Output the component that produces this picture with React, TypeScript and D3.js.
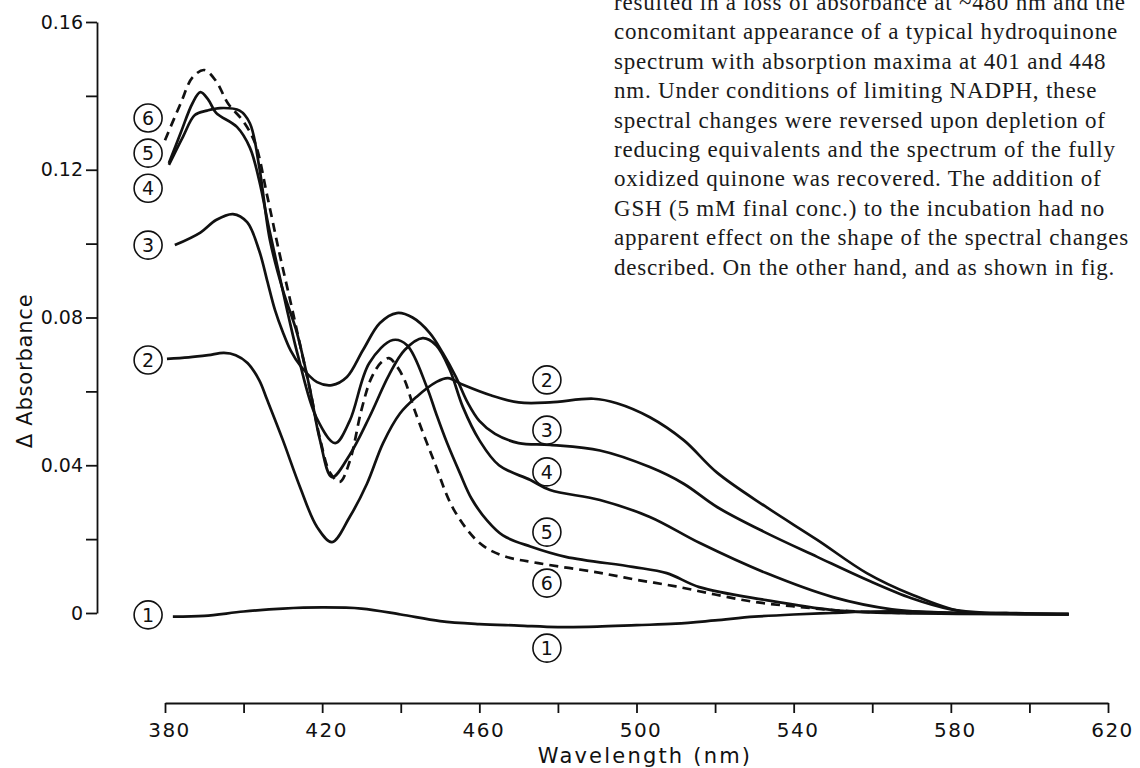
import React, { useRef, useEffect } from "react";
import * as d3 from "d3";

const width = 1140;
const height = 768;

// spectra, [wavelength (nm), delta absorbance]
const spectrum1 = [
  [382, -0.001], [390, -0.0008], [400, 0.0004], [410, 0.0012], [420, 0.0015],
  [430, 0.0012], [440, -0.0004], [450, -0.0022], [460, -0.003], [470, -0.0034],
  [480, -0.0038], [490, -0.0037], [500, -0.0033], [510, -0.0029], [520, -0.002],
  [530, -0.001], [540, -0.0004], [550, 0], [560, 0.0004], [570, 0.0004],
  [580, 0.0001], [590, 0], [600, -0.0002], [610, -0.0004],
];

const spectrum2 = [
  [380.5, 0.0688], [386, 0.0692], [391, 0.0698], [395, 0.0704], [398, 0.0698],
  [401, 0.0677], [404, 0.063], [406, 0.0577], [410, 0.0468], [414.4, 0.034],
  [418.7, 0.0233], [422.5, 0.0192], [427, 0.026], [431.4, 0.035], [435.5, 0.046],
  [439.8, 0.054], [444, 0.0585], [449, 0.0625], [452, 0.0636], [456, 0.0617],
  [462.7, 0.059], [470, 0.057], [478, 0.057], [489, 0.058], [495, 0.0568],
  [503.4, 0.053], [512, 0.0468], [520.5, 0.038], [533, 0.0287], [546, 0.0198],
  [558.6, 0.0108], [570, 0.005], [583, 0.0003], [595, 0], [610, -0.0003],
];

const spectrum3 = [
  [382.5, 0.0996], [389, 0.103], [393, 0.1064], [397.3, 0.108], [400.9, 0.1058],
  [404, 0.098], [406, 0.09], [408, 0.082], [410, 0.076], [412, 0.071],
  [414.4, 0.067], [418.7, 0.0625], [422.5, 0.0617], [426.3, 0.0639], [430.4, 0.0712],
  [434.7, 0.0785], [439, 0.0812], [443, 0.08], [447.4, 0.0758], [450.7, 0.0704],
  [454, 0.064], [457, 0.057], [460, 0.052], [464, 0.0485], [470, 0.046],
  [478, 0.0455], [490.7, 0.044], [503.4, 0.0395], [512, 0.035], [520.5, 0.0287],
  [533, 0.0217], [546, 0.0152], [558.6, 0.009], [570, 0.004], [580, 0.001],
  [590, 0], [610, -0.0003],
];

const spectrum4 = [
  [381, 0.1213], [384.6, 0.129], [387.6, 0.1348], [390.7, 0.136], [394, 0.1367],
  [399, 0.136], [401.6, 0.1326], [404, 0.1207], [406.7, 0.101], [410, 0.0874],
  [413.6, 0.0758], [417, 0.06], [419.4, 0.047], [422.5, 0.0368], [427, 0.0428],
  [432, 0.053], [437, 0.0644], [441, 0.0712], [445.6, 0.0744], [449, 0.0725],
  [452.5, 0.0658], [455.8, 0.0558], [460, 0.0468], [465, 0.04], [473, 0.036],
  [478, 0.0333], [490.7, 0.0306], [503.4, 0.026], [516, 0.019], [533, 0.0108],
  [550, 0.0043], [565, 0.001], [580, 0], [610, -0.0003],
];

const spectrum5 = [
  [381, 0.1218], [384, 0.13], [387, 0.138], [389, 0.141], [391, 0.139],
  [393, 0.1354], [398.3, 0.1316], [401.6, 0.126], [404, 0.117], [406.5, 0.104],
  [409, 0.092], [411.5, 0.08], [414, 0.069], [418.5, 0.053], [423.3, 0.046],
  [427, 0.052], [432, 0.0677], [438, 0.0739], [441.6, 0.0725], [446.7, 0.061],
  [449, 0.054], [451.8, 0.046], [455, 0.038], [458, 0.031], [462, 0.025],
  [466, 0.021], [473, 0.018], [482, 0.0152], [499, 0.0125], [507.7, 0.0108],
  [516, 0.007], [533, 0.0035], [550, 0.0008], [565, 0], [610, -0.0003],
];

// dashed trace
const spectrum6 = [
  [380, 0.128], [384, 0.138], [387, 0.145], [390, 0.147], [393, 0.144],
  [396, 0.138], [400, 0.133], [403, 0.127], [406, 0.113], [409, 0.098],
  [412, 0.084], [414.5, 0.072], [417, 0.06], [419.5, 0.047], [422, 0.038],
  [424.5, 0.0355], [427, 0.041], [430, 0.055], [432.5, 0.0636], [435, 0.0678],
  [437, 0.069], [439, 0.0668], [441, 0.063], [443.5, 0.055], [448.5, 0.041],
  [453.5, 0.028], [460, 0.019], [466, 0.0155], [475, 0.0135], [490, 0.011],
  [500, 0.009], [510, 0.0072], [520, 0.005], [530, 0.003], [540, 0.0018],
  [550, 0.0008], [560, 0.0002], [570, 0],
];

const yTicks = [0, 0.02, 0.04, 0.06, 0.08, 0.1, 0.12, 0.14, 0.16];
const yTickLabels = ["0", "", "0.04", "", "0.08", "", "0.12", "", "0.16"];
const xTicks = [380, 400, 420, 440, 460, 480, 500, 520, 540, 560, 580, 600, 620];
const xTickLabels = ["380", "", "420", "", "460", "", "500", "", "540", "", "580", "", "620"];

// circled curve numbers: [number, wavelength, absorbance]
const leftMarks = [
  ["6", 375.7, 0.134], ["5", 375.7, 0.1245], ["4", 375.7, 0.115],
  ["3", 375.7, 0.0996], ["2", 375.7, 0.0685], ["1", 375.7, -0.0005],
];
const rightMarks = [
  ["2", 477.2, 0.0631], ["3", 477.2, 0.0495], ["4", 477.2, 0.0382],
  ["5", 477.2, 0.0219], ["6", 477.2, 0.0081], ["1", 477.2, -0.0095],
];

const paragraphLines = [
  "resulted in a loss of absorbance at ~480 nm and the",
  "concomitant appearance of a typical hydroquinone",
  "spectrum with absorption maxima at 401 and 448",
  "nm. Under conditions of limiting NADPH, these",
  "spectral changes were reversed upon depletion of",
  "reducing equivalents and the spectrum of the fully",
  "oxidized quinone was recovered. The addition of",
  "GSH (5 mM final conc.) to the incubation had no",
  "apparent effect on the shape of the spectral changes",
  "described. On the other hand, and as shown in fig.",
];

const sans = "'DejaVu Sans', sans-serif";

export default function App() {
  const xAxisRef = useRef<SVGGElement>(null);
  const yAxisRef = useRef<SVGGElement>(null);

  const x = d3.scaleLinear().domain([380, 620]).range([165, 1108]);
  const y = d3.scaleLinear().domain([0, 0.16]).range([613, 22]);

  const line = d3
    .line<number[]>()
    .x((d) => x(d[0]))
    .y((d) => y(d[1]))
    .curve(d3.curveCatmullRom.alpha(0.5));

  useEffect(() => {
    const ya = d3
      .axisLeft(y)
      .tickValues(yTicks)
      .tickSize(11)
      .tickSizeOuter(0)
      .tickPadding(3)
      .tickFormat((d, i) => yTickLabels[i]);
    const gy = d3.select(yAxisRef.current);
    gy.selectAll("*").remove();
    gy.call(ya as any);
    gy.attr("font-family", sans).attr("font-size", 19);
    gy.selectAll("path, line").attr("stroke", "#111").attr("stroke-width", 1.8);
    gy.selectAll("text").attr("fill", "#111");

    const xa = d3
      .axisBottom(x)
      .tickValues(xTicks)
      .tickSize(10)
      .tickSizeOuter(0)
      .tickPadding(10)
      .tickFormat((d, i) => xTickLabels[i]);
    const gx = d3.select(xAxisRef.current);
    gx.selectAll("*").remove();
    gx.call(xa as any);
    gx.attr("font-family", sans).attr("font-size", 20);
    gx.selectAll("path, line").attr("stroke", "#111").attr("stroke-width", 1.8);
    gx.selectAll("text").attr("fill", "#111").attr("letter-spacing", 1.5).attr("dx", 4);
  }, []);

  const solid = [spectrum1, spectrum2, spectrum3, spectrum4, spectrum5];

  const mark = (m: any[], k: string) => (
    <g key={k} transform={`translate(${x(m[1])},${y(m[2])})`}>
      <circle r={14} fill="white" stroke="#111" strokeWidth={1.6} />
      <text
        textAnchor="middle"
        dy="0.36em"
        fontFamily={sans}
        fontSize={19}
        fill="#111"
      >
        {m[0]}
      </text>
    </g>
  );

  return (
    <svg
      width={width}
      height={height}
      style={{ position: "absolute", left: 0, top: 0, background: "white" }}
    >
      {/* page text next to the figure, cropped by the right edge as in the scan */}
      <g
        fontFamily="'Liberation Serif', serif"
        fontSize={23}
        letterSpacing={0.8}
        fill="#1a1a1a"
      >
        {paragraphLines.map((t, i) => (
          <text key={i} x={614} y={10 + i * 29.4}>
            {t}
          </text>
        ))}
      </g>

      <g ref={yAxisRef} transform="translate(97,0)" />
      <g ref={xAxisRef} transform="translate(0,703)" />

      <text
        transform="translate(32,371) rotate(-90)"
        textAnchor="middle"
        fontFamily={sans}
        fontSize={21}
        letterSpacing={0.8}
        fill="#111"
      >
        Δ Absorbance
      </text>
      <text
        x={645}
        y={763}
        textAnchor="middle"
        fontFamily={sans}
        fontSize={21}
        letterSpacing={2.2}
        fill="#111"
      >
        Wavelength  (nm)
      </text>

      {solid.map((s, i) => (
        <path
          key={i}
          d={line(s) || ""}
          fill="none"
          stroke="#111"
          strokeWidth={2.7}
          strokeLinejoin="round"
        />
      ))}
      <path
        d={line(spectrum6) || ""}
        fill="none"
        stroke="#111"
        strokeWidth={2.7}
        strokeDasharray="9 6"
      />

      {leftMarks.map((m, i) => mark(m, "l" + i))}
      {rightMarks.map((m, i) => mark(m, "r" + i))}
    </svg>
  );
}
